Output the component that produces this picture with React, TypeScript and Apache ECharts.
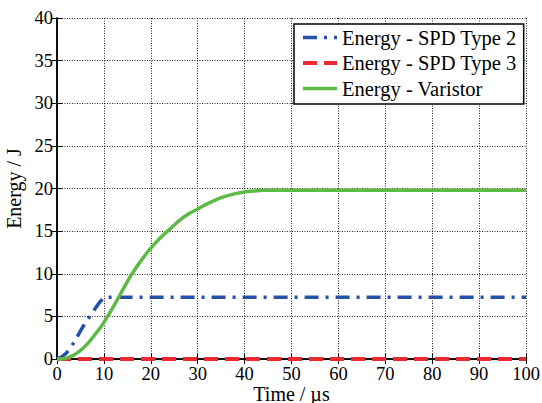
import React, { useEffect, useRef } from "react";
import * as echarts from "echarts";

const xTicks = { min: 0, max: 100, interval: 10 };
const yTicks = { min: 0, max: 40, interval: 5 };

const blueTimes = [0, 1, 2, 3, 4, 5, 6, 7, 8, 9, 10, 11, 100];
const blueEnergy = [0, 0.25, 0.7, 1.4, 2.3, 3.3, 4.2, 5.0, 5.8, 6.6, 7.2, 7.25, 7.25];

const redTimes = [0, 100];
const redEnergy = [0, 0];

const greenTimes = [0, 1, 2, 3, 4, 5, 6, 7, 8, 9, 10, 11, 12, 13, 14, 16, 18, 20, 22, 24, 26, 28, 30, 32, 34, 36, 38, 40, 42, 44, 46, 50, 100];
const greenEnergy = [0, 0, 0.1, 0.3, 0.6, 1.0, 1.5, 2.1, 2.8, 3.5, 4.3, 5.2, 6.1, 7.1, 8.1, 10.0, 11.6, 13.0, 14.2, 15.2, 16.2, 17.0, 17.6, 18.2, 18.7, 19.1, 19.4, 19.6, 19.7, 19.8, 19.8, 19.8, 19.8];

const seriesNames = ["Energy - SPD Type 2", "Energy - SPD Type 3", "Energy - Varistor"];

const FONT = "'Liberation Serif', 'Times New Roman', serif";

const BLUE = "#2651a8";
const RED = "#ec2830";
const GREEN = "#5dbb45";
const blueDash = [14, 7, 3, 7];
const redDash = [14, 7];

const pairs = (xs: number[], ys: number[]) => xs.map((x, i) => [x, ys[i]]);

export default function App() {
  const ref = useRef<HTMLDivElement>(null);
  useEffect(() => {
    document.body.style.margin = "0";
    if (!ref.current) return;
    const chart = echarts.init(ref.current, null, { renderer: "svg" });
    const hiddenAxisCommon = {
      axisLine: { show: true, lineStyle: { color: "#000", width: 1.5 } },
      axisTick: { show: true, inside: true, length: 5, lineStyle: { color: "#000", width: 1 } },
      axisLabel: { show: false },
      splitLine: { show: false },
    };
    chart.setOption({
      animation: false,
      backgroundColor: "#fff",
      textStyle: { fontFamily: FONT },
      grid: { left: 57, top: 18, right: 16, bottom: 44, containLabel: false, outerBoundsMode: "none" },
      legend: {
        orient: "vertical",
        left: 294,
        top: 24,
        itemWidth: 34,
        itemHeight: 14,
        itemGap: 4.5,
        itemTextGap: 4,
        padding: [3, 7, 5, 7],
        borderColor: "#000",
        borderWidth: 1.5,
        borderRadius: 0,
        backgroundColor: "#fff",
        itemStyle: { opacity: 0 },
        textStyle: { fontFamily: FONT, fontSize: 20.5, color: "#000", lineHeight: 20 },
        data: [
          { name: seriesNames[0], itemStyle: { opacity: 0 }, lineStyle: { color: BLUE, width: 3.5, type: blueDash } },
          { name: seriesNames[1], itemStyle: { opacity: 0 }, lineStyle: { color: RED, width: 4, type: redDash } },
          { name: seriesNames[2], itemStyle: { opacity: 0 }, lineStyle: { color: GREEN, width: 3.5, type: "solid" } },
        ],
      },
      xAxis: [
        {
          type: "value",
          min: xTicks.min,
          max: xTicks.max,
          interval: xTicks.interval,
          name: "Time / \u00b5s",
          nameLocation: "middle",
          nameGap: 25,
          nameMoveOverlap: false,
          nameTextStyle: { fontFamily: FONT, fontSize: 20, color: "#000", verticalAlign: "top", lineHeight: 19 },
          axisLine: { show: true, onZero: false, lineStyle: { color: "#000", width: 1.5 } },
          axisTick: { show: true, inside: true, length: 5, lineStyle: { color: "#000", width: 1 } },
          axisLabel: { fontFamily: FONT, fontSize: 18.5, color: "#000", margin: 6, lineHeight: 18 },
          splitLine: { show: true, lineStyle: { color: "#222", width: 1, type: [1, 1.5] } },
        },
        {
          type: "value",
          position: "top",
          min: xTicks.min,
          max: xTicks.max,
          interval: xTicks.interval,
          ...hiddenAxisCommon,
        },
      ],
      yAxis: [
        {
          type: "value",
          min: yTicks.min,
          max: yTicks.max,
          interval: yTicks.interval,
          name: "Energy / J",
          nameLocation: "middle",
          nameGap: 33,
          nameTextStyle: { fontFamily: FONT, fontSize: 20, color: "#000" },
          axisLine: { show: true, onZero: false, lineStyle: { color: "#000", width: 1.5 } },
          axisTick: { show: true, inside: true, length: 5, lineStyle: { color: "#000", width: 1 } },
          axisLabel: { fontFamily: FONT, fontSize: 18.5, color: "#000", margin: 4 },
          splitLine: { show: true, lineStyle: { color: "#222", width: 1, type: [1, 1.5] } },
        },
        {
          type: "value",
          position: "right",
          min: yTicks.min,
          max: yTicks.max,
          interval: yTicks.interval,
          ...hiddenAxisCommon,
        },
      ],
      series: [
        {
          name: seriesNames[0],
          type: "line",
          data: pairs(blueTimes, blueEnergy),
          showSymbol: false,
          symbol: "none",
          clip: false,
          lineStyle: { color: BLUE, width: 3.5, type: blueDash, cap: "butt" },
          itemStyle: { color: BLUE },
        },
        {
          name: seriesNames[1],
          type: "line",
          data: pairs(redTimes, redEnergy),
          showSymbol: false,
          symbol: "none",
          clip: false,
          lineStyle: { color: RED, width: 4, type: redDash, cap: "butt" },
          itemStyle: { color: RED },
        },
        {
          name: seriesNames[2],
          type: "line",
          data: pairs(greenTimes, greenEnergy),
          showSymbol: false,
          symbol: "none",
          smooth: 0.3,
          clip: false,
          lineStyle: { color: GREEN, width: 3.5 },
          itemStyle: { color: GREEN },
        },
      ],
    });
    return () => chart.dispose();
  }, []);
  return <div ref={ref} style={{ width: 542, height: 403 }} />;
}
